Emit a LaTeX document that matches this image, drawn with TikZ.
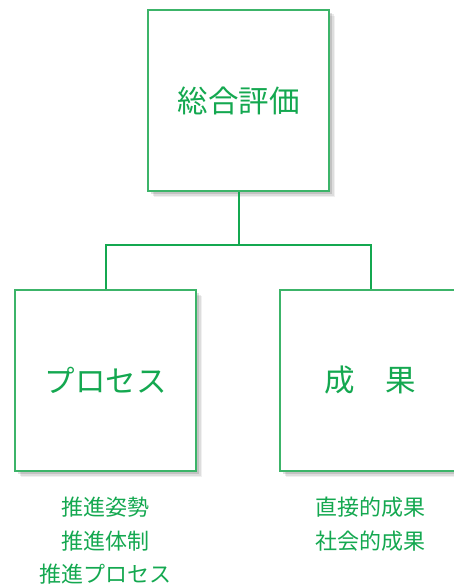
\documentclass[tikz,border=0pt]{standalone}
\usepackage{fontspec}
\newfontfamily\cjk{Noto Sans CJK JP}
\usetikzlibrary{shadows}
\definecolor{grn}{RGB}{20,168,80}
\definecolor{grnb}{RGB}{60,180,105}
\tikzset{
  box/.style={draw=grnb, line width=1.5pt, fill=white, minimum width=181pt, minimum height=181pt, inner sep=0pt,
    drop shadow={shadow xshift=6pt, shadow yshift=-6pt, fill=black, opacity=0.06},
    drop shadow={shadow xshift=4.5pt, shadow yshift=-4.5pt, fill=black, opacity=0.08},
    drop shadow={shadow xshift=3pt, shadow yshift=-3pt, fill=black, opacity=0.12},
    font=\cjk\fontsize{30.5}{34}\selectfont, text=grn},
  captext/.style={font=\cjk\fontsize{22}{26}\selectfont, text=grn, align=center},
  conn/.style={draw=grn, line width=2pt}
}
\begin{document}
\begin{tikzpicture}[x=1pt,y=-1pt]
\useasboundingbox (0,0) rectangle (454,585);
\begin{scope}
\clip (0,0) rectangle (454,585);
\node[box] (top) at (238.5,100.5) {総合評価};
\node[box] (left) at (105.5,380.5) {プロセス};
\node[box] (right) at (370.5,380.5) {成　果};
\end{scope}
\coordinate (j) at (238.5,245);
\draw[conn] (top.south) -- (j);
\draw[conn] (left.north) |- (j) -| (right.north);
\node[captext] (c1) at (105.5,507) {推進姿勢};
\node[captext] (c2) at (105.5,541) {推進体制};
\node[captext] (c3) at (105.5,574) {推進プロセス};
\node[captext] (c4) at (370.5,507) {直接的成果};
\node[captext] (c5) at (370.5,541) {社会的成果};
\end{tikzpicture}
\end{document}
